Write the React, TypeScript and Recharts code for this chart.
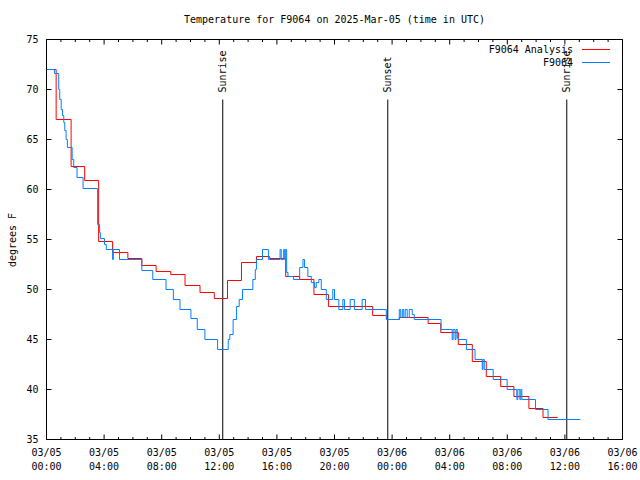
import { LineChart, Line, XAxis, YAxis, ReferenceLine, ReferenceArea, Legend } from "recharts";

const TITLE = "Temperature for F9064 on 2025-Mar-05 (time in UTC)";
const FONT = "'DejaVu Sans Mono', monospace";
const PLOT_W = 576;
const PLOT_H = 400;

const seriesNames = ["F9064 Analysis", "F9064"];

// hours since 2025-03-05 00:00 UTC
const analysisHours = [0, 0.67, 1.71, 2.65, 3.62, 4.59, 5.65, 6.62, 7.61, 8.63, 9.62, 10.66, 11.65, 12.57, 13.54, 14.58, 15.5, 16.61, 17.58, 18.57, 19.58, 22.65, 23.62, 24.5, 26.5, 27.38, 28.6, 29.57, 30.54, 31.54, 32.46, 33.5, 34.48, 35.5];
const analysisTemps = [72, 67, 62.3, 60.9, 54.8, 53.7, 53.1, 52.4, 51.8, 51.5, 50.4, 49.7, 49.1, 50.9, 52.7, 53.3, 53.1, 51.3, 51.0, 49.5, 48.3, 47.4, 47.0, 47.2, 46.6, 45.7, 44.5, 42.8, 41.3, 40.3, 39.3, 38.1, 37.2, 37.2];

const obsHours = [0, 0.55, 0.85, 0.92, 1.02, 1.11, 1.2, 1.27, 1.36, 1.45, 1.78, 1.89, 2.12, 2.54, 3.55, 3.69, 3.74, 4.03, 4.15, 4.59, 4.64, 5.07, 6.62, 7.38, 8.3, 8.81, 9.27, 10.03, 10.47, 11.0, 11.88, 12.62, 12.73, 12.96, 13.2, 13.38, 13.61, 14.33, 14.5, 14.58, 15.0, 15.41, 16.22, 16.3, 16.47, 16.54, 16.61, 16.68, 16.77, 17.16, 17.58, 17.81, 17.92, 18.15, 18.39, 18.62, 18.73, 18.91, 19.08, 19.43, 19.88, 20.0, 20.3, 20.58, 20.69, 21.09, 21.38, 21.92, 22.15, 23.6, 24.5, 24.6, 24.71, 24.81, 24.91, 25.05, 25.19, 25.4, 25.54, 27.4, 28.17, 28.24, 28.37, 28.44, 28.53, 28.58, 29.16, 29.76, 30.26, 30.31, 30.4, 31.02, 31.99, 32.66, 32.73, 32.87, 32.94, 33.01, 33.96, 34.83, 37.07];
const obsTemps = [72, 71.6, 70, 69, 68, 67.4, 66.7, 65.9, 65, 64.2, 63, 62.2, 61.2, 60.1, 56.5, 55.7, 55.1, 54.5, 54, 53, 54, 53, 51.9, 51, 50, 49, 48, 47.1, 46, 45, 44, 45, 45.5, 47, 48.3, 49, 50, 51, 52, 53, 54, 53, 54, 53, 54, 53, 54, 51.7, 51.3, 51, 52.2, 53, 52.2, 51.3, 50.7, 50.2, 50.7, 51, 50, 49, 50, 49, 48, 49, 48, 49, 48, 49, 48, 47, 48, 47.2, 48, 47.2, 48, 47.2, 48, 47.5, 47, 46, 45, 46, 45, 46, 45.2, 45, 44, 43, 42, 43, 42, 41, 40, 39, 40, 39, 40, 39, 38, 37, 37];

const sunHours = [12.24, 23.7, 36.13];
const sunLabels = ["Sunrise", "Sunset", "Sunrise"];
const SUN_LINE_TOP = 69;

const hourTicks = Array.from({ length: 41 }, (_, i) => i);
const tempTicks = [35, 40, 45, 50, 55, 60, 65, 70, 75];

const analysisData = analysisHours.map((h, i) => ({ h, t: analysisTemps[i] }));
const obsData = obsHours.map((h, i) => ({ h, t: obsTemps[i] }));

const pad = (n: number) => String(n).padStart(2, "0");

function TimeTick(props: any) {
  const { x, y, payload } = props;
  const h = payload.value as number;
  const major = h % 4 === 0;
  const len = major ? 5 : 2.5;
  const day = 5 + Math.floor(h / 24);
  return (
    <g>
      <line x1={x} y1={y} x2={x} y2={y - len} stroke="#000" />
      <line x1={x} y1={y - PLOT_H} x2={x} y2={y - PLOT_H + len} stroke="#000" />
      {major && (
        <text x={x} y={y + 16} textAnchor="middle" fontFamily={FONT} fontSize={10} fill="#000">
          <tspan x={x}>{`03/${pad(day)}`}</tspan>
          <tspan x={x} dy={14}>{`${pad(h % 24)}:00`}</tspan>
        </text>
      )}
    </g>
  );
}

function TempTick(props: any) {
  const { x, y, payload } = props;
  return (
    <g>
      <line x1={x} y1={y} x2={x + 5} y2={y} stroke="#000" />
      <line x1={x + PLOT_W} y1={y} x2={x + PLOT_W - 5} y2={y} stroke="#000" />
      <text x={x - 8} y={y + 3.5} textAnchor="end" fontFamily={FONT} fontSize={10} fill="#000">
        {payload.value}
      </text>
    </g>
  );
}

function sunLabel(text: string) {
  return (props: any) => {
    const vb = props.viewBox || {};
    const x = vb.x ?? 0;
    const y = (vb.y ?? 0) - 7;
    return (
      <text
        x={x}
        y={y}
        transform={`rotate(-90 ${x} ${y})`}
        textAnchor="start"
        dominantBaseline="central"
        fontFamily={FONT}
        fontSize={10}
        fill="#000"
      >
        {text}
      </text>
    );
  };
}

function LegendBox(props: any) {
  const items = [...(props.payload || [])].sort(
    (a: any, b: any) => seriesNames.indexOf(a.value) - seriesNames.indexOf(b.value)
  );
  return (
    <svg width={140} height={32} style={{ display: "block" }}>
      {items.map((e: any, i: number) => (
        <g key={e.value}>
          <text x={93} y={12.8 + i * 13} textAnchor="end" fontFamily={FONT} fontSize={10} fill="#000">
            {e.value}
          </text>
          <line x1={102} x2={130} y1={9.5 + i * 13} y2={9.5 + i * 13} stroke={e.color} />
        </g>
      ))}
    </svg>
  );
}

export default function App() {
  return (
    <div style={{ position: "absolute", left: 0, top: 0, width: 640, height: 480, background: "#fff" }}>
      <LineChart width={640} height={480} margin={{ top: 39.5, right: 17.5, bottom: 0, left: 0 }}>
        <XAxis
          dataKey="h"
          type="number"
          domain={[0, 40]}
          ticks={hourTicks}
          interval={0}
          height={40.5}
          axisLine={false}
          tickLine={false}
          tickSize={0}
          tickMargin={0}
          tick={<TimeTick />}
          allowDataOverflow
        />
        <YAxis
          type="number"
          domain={[35, 75]}
          ticks={tempTicks}
          interval={0}
          width={46.5}
          axisLine={false}
          tickLine={false}
          tickSize={0}
          tickMargin={0}
          tick={<TempTick />}
          allowDataOverflow
        />
        <ReferenceArea x1={0} x2={40} y1={35} y2={75} fill="none" fillOpacity={0} stroke="#000" strokeWidth={1} />
        {sunHours.map((h, i) => (
          <ReferenceLine
            key={i}
            segment={[{ x: h, y: SUN_LINE_TOP }, { x: h, y: 35 }]}
            stroke="#000"
            strokeWidth={1}
            label={sunLabel(sunLabels[i])}
          />
        ))}
        <Line
          data={analysisData}
          dataKey="t"
          name={seriesNames[0]}
          type="stepAfter"
          stroke="#ff0000"
          strokeWidth={1}
          dot={false}
          isAnimationActive={false}
        />
        <Line
          data={obsData}
          dataKey="t"
          name={seriesNames[1]}
          type="stepAfter"
          stroke="#0080ff"
          strokeWidth={1}
          dot={false}
          isAnimationActive={false}
        />
        <Legend
          layout="horizontal"
          verticalAlign="middle"
          align="center"
          wrapperStyle={{ top: 40, left: 480, width: 140, height: 32 }}
          content={<LegendBox />}
        />
        <text x={334.5} y={23} textAnchor="middle" fontFamily={FONT} fontSize={10} fill="#000">
          {TITLE}
        </text>
        <text
          x={12}
          y={240}
          transform="rotate(-90 12 240)"
          textAnchor="middle"
          dominantBaseline="central"
          fontFamily={FONT}
          fontSize={10}
          fill="#000"
        >
          degrees F
        </text>
      </LineChart>
    </div>
  );
}
